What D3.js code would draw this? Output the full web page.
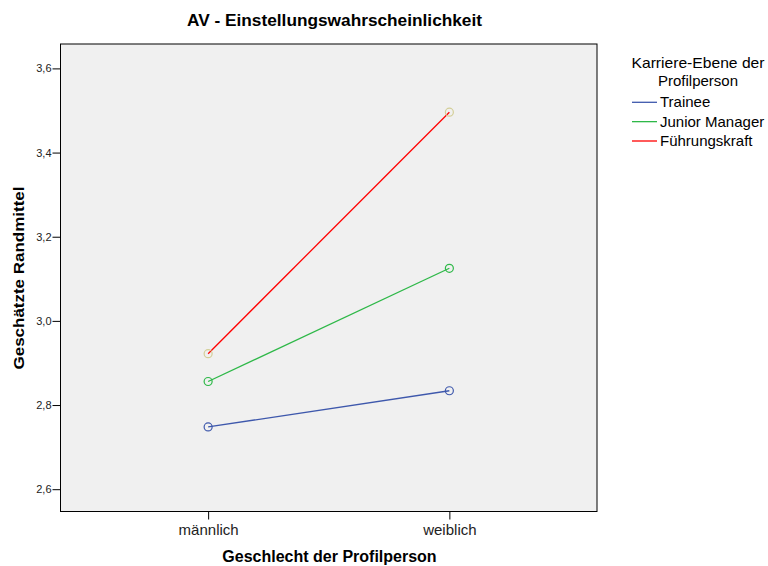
<!DOCTYPE html>
<html><head><meta charset="utf-8">
<script src="https://cdn.jsdelivr.net/npm/d3@7"></script>
<style>body{margin:0;background:#fff}svg{display:block}text{font-family:Arial,"Liberation Sans",sans-serif}</style>
</head><body>
<svg id="c" width="768" height="566"></svg>
<script>
const categories = ["männlich", "weiblich"];
const seriesNames = ["Trainee", "Junior Manager", "Führungskraft"];
const trainee = [2.748, 2.834];
const juniorManager = [2.856, 3.125];
const fuehrungskraft = [2.922, 3.496];
const yTicks = [2.6, 2.8, 3.0, 3.2, 3.4, 3.6];
const lineColors = ["#3E58AC", "#2EB848", "#FF0000"];
const markerColors = ["#3E58AC", "#2EB848", "#D3CE97"];

const seriesValues = [trainee, juniorManager, fuehrungskraft];
const svg = d3.select("#c");
const L = 60.5, R = 597, T = 44, B = 511.5;

const x = d3.scalePoint().domain(categories).range([L, R]).padding(0.612);
const y = d3.scaleLinear().domain([2.547, 3.658]).range([B, T]);

svg.append("rect").attr("x", L).attr("y", T).attr("width", R - L).attr("height", B - T)
  .attr("fill", "#f0f0f0").attr("stroke", "#000").attr("stroke-width", 1);

const fmt = d => d3.format(".1f")(d).replace(".", ",");
const yAxis = svg.append("g").attr("transform", `translate(${L},0)`)
  .call(d3.axisLeft(y).tickValues(yTicks).tickFormat(fmt).tickSize(8).tickPadding(1));
yAxis.select(".domain").remove();
yAxis.selectAll("text").attr("font-size", 11).attr("fill", "#222");

const xAxis = svg.append("g").attr("transform", `translate(0,${B})`)
  .call(d3.axisBottom(x).tickSize(8).tickPadding(5));
xAxis.select(".domain").remove();
xAxis.selectAll("text").attr("font-size", 15).attr("fill", "#222");

const line = d3.line().x((d, i) => x(categories[i])).y(d => y(d));
seriesValues.forEach((vals, si) => {
  svg.append("path").datum(vals).attr("d", line).attr("fill", "none")
    .attr("stroke", lineColors[si]).attr("stroke-width", 1.3);
});
seriesValues.forEach((vals, si) => {
  svg.selectAll(null).data(vals).enter().append("circle")
    .attr("cx", (d, i) => x(categories[i])).attr("cy", d => y(d)).attr("r", 4)
    .attr("fill", "none").attr("stroke", markerColors[si]).attr("stroke-width", 1.2);
});

svg.append("text").attr("x", 334.5).attr("y", 26).attr("text-anchor", "middle")
  .attr("font-size", 16).attr("font-weight", "bold")
  .attr("textLength", 295).attr("lengthAdjust", "spacingAndGlyphs")
  .text("AV - Einstellungswahrscheinlichkeit");
svg.append("text").attr("x", 329.5).attr("y", 562).attr("text-anchor", "middle")
  .attr("font-size", 16).attr("font-weight", "bold")
  .text("Geschlecht der Profilperson");
svg.append("text").attr("transform", "translate(24,278) rotate(-90)").attr("text-anchor", "middle")
  .attr("font-size", 15).attr("font-weight", "bold")
  .attr("textLength", 183).attr("lengthAdjust", "spacingAndGlyphs")
  .text("Geschätzte Randmittel");

const lg = svg.append("g");
lg.append("text").attr("x", 698).attr("y", 68).attr("text-anchor", "middle").attr("font-size", 15)
  .attr("textLength", 133).attr("lengthAdjust", "spacingAndGlyphs")
  .text("Karriere-Ebene der");
lg.append("text").attr("x", 698).attr("y", 86).attr("text-anchor", "middle").attr("font-size", 15)
  .text("Profilperson");
const ly = d3.scalePoint().domain(seriesNames).range([102.3, 141]);
seriesNames.forEach((n, i) => {
  lg.append("line").attr("x1", 632).attr("x2", 657).attr("y1", ly(n)).attr("y2", ly(n))
    .attr("stroke", lineColors[i]).attr("stroke-width", 1.3);
  lg.append("text").attr("x", 660).attr("y", ly(n) + 5).attr("font-size", 15).text(n);
});
</script>
</body></html>
